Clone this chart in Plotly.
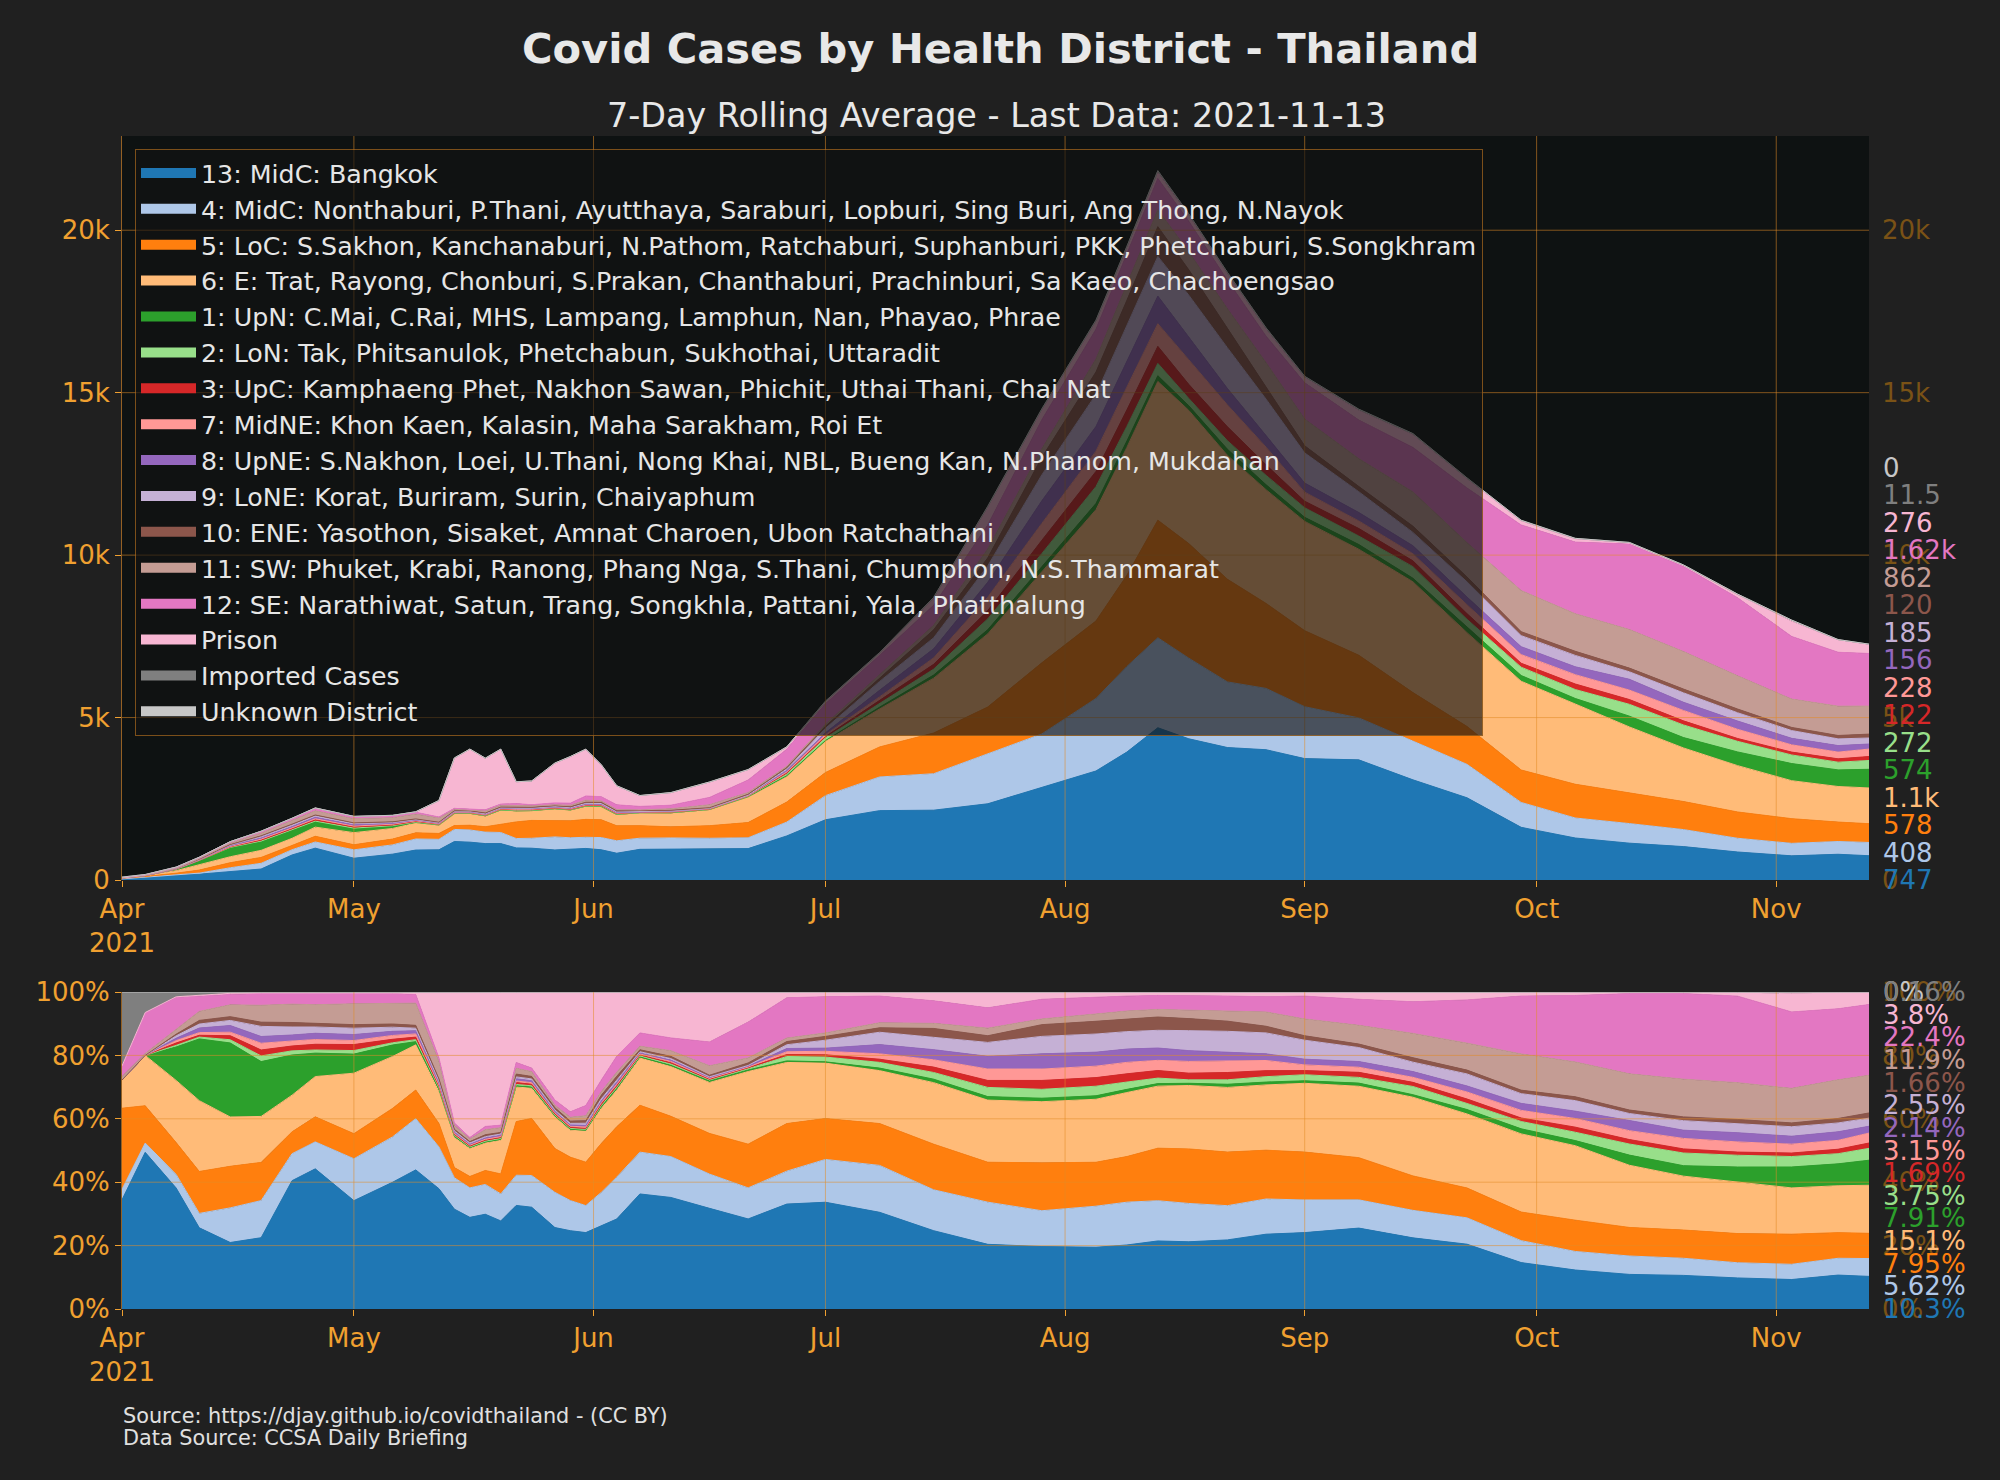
import plotly.graph_objects as go

# ---------------- data ----------------
dates = ["2021-04-01", "2021-04-04", "2021-04-08", "2021-04-11", "2021-04-15", "2021-04-19", "2021-04-23",
         "2021-04-26", "2021-05-01", "2021-05-06", "2021-05-09", "2021-05-12", "2021-05-14", "2021-05-16",
         "2021-05-18", "2021-05-20", "2021-05-22", "2021-05-24", "2021-05-27", "2021-05-29", "2021-05-31",
         "2021-06-02", "2021-06-04", "2021-06-07", "2021-06-11", "2021-06-16", "2021-06-21", "2021-06-26",
         "2021-07-01", "2021-07-08", "2021-07-15", "2021-07-22", "2021-07-29", "2021-08-05", "2021-08-09",
         "2021-08-13", "2021-08-17", "2021-08-22", "2021-08-27", "2021-09-01", "2021-09-08", "2021-09-15",
         "2021-09-22", "2021-09-29", "2021-10-06", "2021-10-13", "2021-10-20", "2021-10-27", "2021-11-03",
         "2021-11-09", "2021-11-13"]

names = [
    "13: MidC: Bangkok",
    "4: MidC: Nonthaburi, P.Thani, Ayutthaya, Saraburi, Lopburi, Sing Buri, Ang Thong, N.Nayok",
    "5: LoC: S.Sakhon, Kanchanaburi, N.Pathom, Ratchaburi, Suphanburi, PKK, Phetchaburi, S.Songkhram",
    "6: E: Trat, Rayong, Chonburi, S.Prakan, Chanthaburi, Prachinburi, Sa Kaeo, Chachoengsao",
    "1: UpN: C.Mai, C.Rai, MHS, Lampang, Lamphun, Nan, Phayao, Phrae",
    "2: LoN: Tak, Phitsanulok, Phetchabun, Sukhothai, Uttaradit",
    "3: UpC: Kamphaeng Phet, Nakhon Sawan, Phichit, Uthai Thani, Chai Nat",
    "7: MidNE: Khon Kaen, Kalasin, Maha Sarakham, Roi Et",
    "8: UpNE: S.Nakhon, Loei, U.Thani, Nong Khai, NBL, Bueng Kan, N.Phanom, Mukdahan",
    "9: LoNE: Korat, Buriram, Surin, Chaiyaphum",
    "10: ENE: Yasothon, Sisaket, Amnat Charoen, Ubon Ratchathani",
    "11: SW: Phuket, Krabi, Ranong, Phang Nga, S.Thani, Chumphon, N.S.Thammarat",
    "12: SE: Narathiwat, Satun, Trang, Songkhla, Pattani, Yala, Phatthalung",
    "Prison",
    "Imported Cases",
    "Unknown District",
]

bangkok = [31, 84, 152, 180, 248, 338, 770, 981, 670, 796, 922, 929, 1184, 1165, 1121, 1120, 988, 979, 925, 939,
           971, 930, 824, 944, 947, 958, 966, 1357, 1854, 2135, 2149, 2346, 2857, 3356, 3939, 4687, 4347, 4077,
           4010, 3736, 3698, 3083, 2530, 1621, 1293, 1134, 1028, 862, 744, 792, 747]
midc4 = [3, 5, 17, 32, 129, 176, 162, 189, 259, 285, 340, 323, 372, 375, 353, 343, 288, 305, 400, 361, 343, 376,
         383, 343, 347, 326, 333, 426, 743, 1036, 1122, 1530, 1639, 2232, 2633, 2769, 2481, 2020, 1887, 1597, 1291,
         1192, 1029, 766, 615, 603, 524, 422, 384, 392, 408]
loc5 = [23, 20, 40, 93, 155, 181, 131, 175, 155, 179, 189, 181, 120, 145, 165, 254, 512, 549, 497, 521, 552, 547,
        461, 385, 342, 387, 469, 615, 710, 924, 1253, 1449, 2190, 2387, 2808, 3619, 3527, 3161, 2617, 2341, 1929,
        1493, 1166, 999, 1039, 936, 863, 810, 760, 599, 578]
east6 = [8, 27, 78, 157, 184, 218, 220, 282, 374, 326, 300, 247, 357, 355, 326, 427, 330, 290, 360, 323, 395, 394,
         336, 387, 422, 485, 779, 791, 963, 1169, 1688, 2254, 2799, 3425, 3939, 4273, 4101, 3815, 3500, 3364, 3263,
         3411, 2889, 2731, 2470, 2038, 1649, 1426, 1168, 1095, 1100]
upn1 = [0, 0, 42, 137, 276, 260, 241, 164, 118, 72, 21, 17, 15, 12, 11, 12, 12, 12, 11, 11, 12, 18, 15, 10, 11, 15,
        17, 20, 22, 56, 96, 127, 160, 190, 195, 174, 143, 187, 153, 124, 145, 110, 174, 178, 170, 333, 320, 422,
        528, 511, 574]
lon2 = [0, 0, 2, 4, 12, 27, 25, 22, 22, 14, 13, 12, 11, 8, 11, 12, 12, 12, 11, 11, 12, 14, 12, 8, 11, 9, 14, 57,
        83, 126, 183, 334, 406, 520, 450, 380, 226, 262, 289, 295, 261, 356, 236, 255, 276, 364, 388, 326, 264,
        237, 272]
upc3 = [0, 0, 3, 4, 15, 28, 29, 40, 37, 22, 17, 10, 11, 12, 11, 12, 18, 15, 11, 11, 12, 14, 12, 8, 11, 6, 10, 25,
        39, 70, 148, 253, 406, 467, 507, 523, 431, 430, 323, 202, 232, 178, 174, 122, 170, 146, 126, 88, 88, 104,
        122]
midne7 = [0, 0, 3, 6, 13, 32, 30, 33, 25, 24, 21, 12, 11, 12, 11, 12, 15, 15, 14, 15, 16, 18, 15, 8, 11, 9, 7, 37,
          61, 119, 200, 414, 522, 623, 702, 698, 758, 673, 544, 279, 232, 219, 273, 266, 286, 291, 320, 282, 224,
          207, 228]
upne8 = [0, 0, 3, 10, 25, 32, 36, 44, 37, 26, 21, 15, 15, 12, 15, 16, 21, 18, 14, 15, 20, 18, 17, 8, 11, 9, 10,
         41, 55, 203, 278, 460, 696, 761, 819, 850, 698, 505, 357, 279, 261, 247, 236, 244, 244, 333, 252, 255, 200,
         200, 156]
lone9 = [0, 0, 3, 9, 19, 48, 48, 44, 39, 26, 17, 17, 15, 16, 15, 16, 18, 18, 18, 19, 28, 25, 20, 10, 13, 6, 7, 49,
         138, 273, 339, 506, 798, 986, 1073, 1221, 1292, 1253, 1122, 930, 640, 410, 470, 340, 350, 230, 291, 255,
         240, 207, 185]
ene10 = [0, 0, 2, 8, 14, 20, 27, 27, 22, 20, 19, 15, 19, 16, 23, 20, 27, 24, 25, 27, 32, 39, 35, 16, 19, 15, 27,
         41, 66, 98, 244, 242, 537, 692, 780, 916, 779, 599, 357, 217, 160, 192, 149, 122, 127, 114, 116, 114, 96,
         104, 120]
sw11 = [1, 1, 6, 20, 44, 80, 110, 129, 129, 127, 147, 132, 49, 32, 60, 60, 55, 46, 29, 46, 64, 39, 38, 29, 48, 90,
        54, 45, 61, 112, 139, 276, 261, 398, 488, 523, 553, 599, 765, 822, 856, 1055, 1054, 1265, 1155, 1186, 1154,
        1021, 872, 903, 862]
se12 = [3, 22, 40, 34, 39, 56, 63, 78, 63, 64, 57, 29, 26, 20, 38, 32, 55, 34, 58, 65, 129, 131, 145, 109, 108,
        226, 384, 521, 627, 588, 618, 736, 899, 917, 917, 959, 943, 879, 816, 1116, 1189, 1370, 1686, 2020, 2205,
        2631, 2619, 2402, 1928, 1658, 1620]
prison = [0, 0, 1, 2, 4, 3, 4, 4, 4, 4, 11, 502, 1545, 1842, 1583, 1685, 667, 726, 1220, 1429, 1435, 976, 580, 328,
          382, 467, 313, 62, 72, 77, 226, 552, 305, 242, 215, 196, 184, 205, 221, 171, 305, 397, 285, 122, 95, 31,
          29, 97, 472, 377, 276]
imported = [21, 11, 6, 7, 5, 4, 6, 7, 6, 6, 6, 7, 8, 8, 8, 8, 6, 6, 7, 8, 8, 11, 9, 8, 8, 9, 10, 13, 11, 14, 17, 23,
            29, 35, 39, 44, 41, 38, 34, 31, 29, 27, 25, 22, 21, 21, 19, 18, 32, 15, 11.5]
unknown = [0, 0, 0, 0, 0, 0, 0, 0, 0, 0, 0, 0, 0, 0, 0, 0, 0, 0, 0, 0, 0, 0, 0, 0, 0, 0, 0, 0, 0, 0, 0, 0, 0, 0, 0,
           0, 0, 0, 0, 0, 0, 0, 0, 0, 0, 0, 0, 0, 0, 0, 0]

series = [bangkok, midc4, loc5, east6, upn1, lon2, upc3, midne7, upne8, lone9, ene10, sw11, se12, prison,
          imported, unknown]

last_labels = ["747", "408", "578", "1.1k", "574", "272", "122", "228", "156", "185", "120", "862", "1.62k",
               "276", "11.5", "0"]
pct_labels = ["10.3%", "5.62%", "7.95%", "15.1%", "7.91%", "3.75%", "1.69%", "3.15%", "2.14%", "2.55%", "1.66%",
              "11.9%", "22.4%", "3.8%", "0.16%", "0%"]

month_ticks = ["2021-04-01", "2021-05-01", "2021-06-01", "2021-07-01", "2021-08-01", "2021-09-01",
               "2021-10-01", "2021-11-01"]
month_labels = ["Apr<br>2021", "May", "Jun", "Jul", "Aug", "Sep", "Oct", "Nov"]
abs_ticks = [0, 5000, 10000, 15000, 20000]
abs_tick_labels = ["0", "5k", "10k", "15k", "20k"]
pct_ticks = [0, 20, 40, 60, 80, 100]
pct_tick_labels = ["0%", "20%", "40%", "60%", "80%", "100%"]

# ---------------- style ----------------
colors = ["#1f77b4", "#aec7e8", "#ff7f0e", "#ffbb78", "#2ca02c", "#98df8a", "#d62728", "#ff9896",
          "#9467bd", "#c5b0d5", "#8c564b", "#c49c94", "#e377c2", "#f7b6d2", "#7f7f7f", "#c7c7c7"]
FONT = "DejaVu Sans"
ORANGE = "#f0a030"
DIM = "#7a5216"
GRID = "rgba(225,140,40,0.55)"
W, H = 2000, 1480

X_DOM = [122 / W, 1869 / W]
Y_TOP = [1 - 880 / H, 1 - 136 / H]
Y_BOT = [1 - 1309 / H, 1 - 992 / H]

fig = go.Figure()

for name, col, vals in zip(names, colors, series):
    fig.add_trace(go.Scatter(
        x=dates, y=vals, name=name, mode="lines", stackgroup="abs",
        line=dict(color=col, width=1), fillcolor=col, legendgroup=name, showlegend=False,
        xaxis="x", yaxis="y", hoverinfo="skip"))

for name, col, vals in zip(names, colors, series):
    fig.add_trace(go.Scatter(
        x=dates, y=vals, name=name, mode="lines", stackgroup="pct", groupnorm="percent",
        line=dict(color=col, width=1), fillcolor=col, legendgroup=name, showlegend=False,
        xaxis="x2", yaxis="y2", hoverinfo="skip"))

# legend entries (thick swatches), linked to the area traces via legendgroup
for name, col in zip(names, colors):
    fig.add_trace(go.Scatter(
        x=[None], y=[None], name=name, mode="lines", line=dict(color=col, width=16),
        legendgroup=name, showlegend=True, xaxis="x", yaxis="y", hoverinfo="skip"))

# invisible traces so the right-hand axes are drawn
fig.add_trace(go.Scatter(x=dates[:1], y=bangkok[:1], mode="markers", marker=dict(opacity=0),
                         showlegend=False, hoverinfo="skip", xaxis="x", yaxis="y3"))
fig.add_trace(go.Scatter(x=dates[:1], y=bangkok[:1], mode="markers", marker=dict(opacity=0),
                         showlegend=False, hoverinfo="skip", xaxis="x2", yaxis="y4"))

tickfont = dict(family=FONT, size=26, color=ORANGE)
dimfont = dict(family=FONT, size=26, color=DIM)
xcommon = dict(range=[dates[0], dates[-1]], tickmode="array", tickvals=month_ticks, ticktext=month_labels,
               tickfont=tickfont, showgrid=False, zeroline=False, ticks="outside", ticklen=6,
               tickcolor=ORANGE, showline=False, automargin=False)

YMAX = 22900
fig.update_layout(
    width=W, height=H,
    paper_bgcolor="#202020", plot_bgcolor="#0e1212",
    margin=dict(l=0, r=0, t=0, b=0),
    xaxis=dict(domain=X_DOM, anchor="y", **xcommon),
    xaxis2=dict(domain=X_DOM, anchor="y2", **xcommon),
    yaxis=dict(domain=Y_TOP, range=[0, YMAX], tickmode="array", tickvals=abs_ticks, ticktext=abs_tick_labels,
               tickfont=tickfont, showgrid=False, zeroline=False, ticks="outside", ticklen=6,
               tickcolor=ORANGE, anchor="x", automargin=False, showline=True, linecolor="rgba(225,140,40,0.6)"),
    yaxis3=dict(overlaying="y", side="right", anchor="x", range=[0, YMAX], tickmode="array",
                tickvals=abs_ticks, ticktext=abs_tick_labels, tickfont=dimfont, showgrid=False,
                zeroline=False, ticks="", automargin=False, ticklabelstandoff=12),
    yaxis2=dict(domain=Y_BOT, range=[0, 100], tickmode="array", tickvals=pct_ticks, ticktext=pct_tick_labels,
                tickfont=tickfont, showgrid=False, zeroline=False, ticks="outside", ticklen=6,
                tickcolor=ORANGE, anchor="x2", automargin=False, showline=True,
                linecolor="rgba(225,140,40,0.6)"),
    yaxis4=dict(overlaying="y2", side="right", anchor="x2", range=[0, 100], tickmode="array",
                tickvals=pct_ticks, ticktext=pct_tick_labels, tickfont=dimfont, showgrid=False,
                zeroline=False, ticks="", automargin=False, ticklabelstandoff=12),
    legend=dict(x=135 / W, y=1 - 149 / H, xanchor="left", yanchor="top",
                bgcolor="rgba(18,18,18,0.65)", bordercolor="rgba(170,105,30,0.7)", borderwidth=1,
                font=dict(family=FONT, size=25.3, color="#e6e6e6"), traceorder="grouped",
                tracegroupgap=0, itemwidth=55),
    showlegend=True,
)

# grid lines drawn above the areas
shapes = []
for t in month_ticks[1:]:
    for xr, yr in (("x", "y domain"), ("x2", "y2 domain")):
        shapes.append(dict(type="line", xref=xr, yref=yr, x0=t, x1=t, y0=0, y1=1,
                           line=dict(color=GRID, width=1), layer="above"))
for v in abs_ticks[1:]:
    shapes.append(dict(type="line", xref="x domain", yref="y", x0=0, x1=1, y0=v, y1=v,
                       line=dict(color=GRID, width=1), layer="above"))
for v in pct_ticks[1:-1]:
    shapes.append(dict(type="line", xref="x2 domain", yref="y2", x0=0, x1=1, y0=v, y1=v,
                       line=dict(color=GRID, width=1), layer="above"))
fig.update_layout(shapes=shapes)

ann = []
ann.append(dict(text="<b>Covid Cases by Health District - Thailand</b>", x=0.5, y=1 - 48 / H,
                xref="paper", yref="paper", xanchor="center", yanchor="middle", showarrow=False,
                font=dict(family=FONT, size=41.6, color="#e8e8e8")))
ann.append(dict(text="7-Day Rolling Average - Last Data: 2021-11-13", x=0.498, y=1 - 115 / H,
                xref="paper", yref="paper", xanchor="center", yanchor="middle", showarrow=False,
                font=dict(family=FONT, size=33.4, color="#e8e8e8")))
ann.append(dict(text="Source: https://djay.github.io/covidthailand - (CC BY)",
                x=121 / W, y=1 - 1416 / H, xref="paper", yref="paper", xanchor="left", yanchor="middle",
                showarrow=False, font=dict(family=FONT, size=20.8, color="#e0e0e0")))
ann.append(dict(text="Data Source: CCSA Daily Briefing",
                x=121 / W, y=1 - 1438 / H, xref="paper", yref="paper", xanchor="left", yanchor="middle",
                showarrow=False, font=dict(family=FONT, size=20.8, color="#e0e0e0")))

step_abs = 846
step_pct = 100 / 14
# add from the top of the stack down so lower-series labels sit on top where they overlap
for i in reversed(range(len(names))):
    ann.append(dict(text=last_labels[i], x=X_DOM[1], y=i * step_abs, xref="paper", yref="y", xanchor="left",
                    yanchor="middle", xshift=12, showarrow=False,
                    font=dict(family=FONT, size=26, color=colors[i])))
    ann.append(dict(text=pct_labels[i], x=X_DOM[1], y=min(i, 14) * step_pct, xref="paper", yref="y2",
                    xanchor="left", yanchor="middle", xshift=12, showarrow=False,
                    font=dict(family=FONT, size=26, color=colors[i])))
fig.update_layout(annotations=ann)

fig.write_html("out.html", config={"displayModeBar": False},
               post_script="document.body.style.margin='0';document.body.style.background='#202020';")
